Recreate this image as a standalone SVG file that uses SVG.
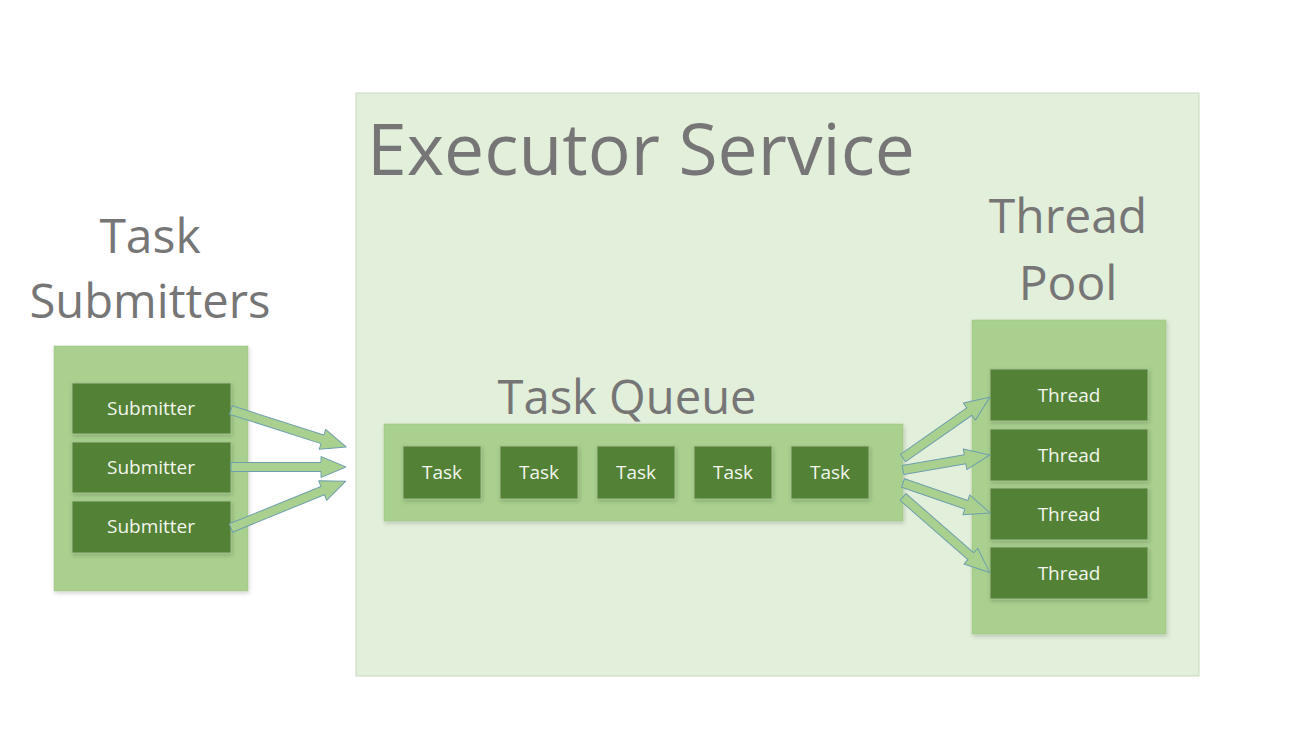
<svg xmlns="http://www.w3.org/2000/svg" width="1292" height="742" viewBox="0 0 1292 742">
<defs>
<style>
.exec{fill:#e2efda;stroke:#c9d9c0;stroke-width:1}
.outer{fill:#a9d08e;stroke:#9cc280;stroke-width:0.5}
.inner{fill:#538135;stroke:#a3bf8f;stroke-width:1}
.title{font-family:"Open Sans","Noto Sans",sans-serif;fill:#767676}
.lbl{font-family:"Open Sans","Noto Sans",sans-serif;fill:#f2f6ee;font-size:19px;text-anchor:middle}
.arrow{fill:#a9d08e;stroke:#6f9fae;stroke-width:1;stroke-linejoin:round}
</style>
<filter id="sh" x="-10%" y="-10%" width="130%" height="130%">
<feDropShadow dx="1" dy="2" stdDeviation="2" flood-color="#000" flood-opacity="0.18"/>
</filter>
</defs>
<rect width="1292" height="742" fill="#ffffff"/>

<g id="executor-service">
<rect class="exec" x="356" y="93" width="843" height="583"/>
<text class="title" x="367" y="175" font-size="72" textLength="548" lengthAdjust="spacingAndGlyphs">Executor Service</text>
</g>

<g id="task-submitters">
<text class="title" x="150" y="253" font-size="48" text-anchor="middle">Task</text>
<text class="title" x="150" y="318" font-size="48" text-anchor="middle" textLength="241" lengthAdjust="spacingAndGlyphs">Submitters</text>
<rect class="outer" x="54" y="346" width="194" height="245" filter="url(#sh)"/>
</g>
<g id="submitter-1"><rect class="inner" x="72" y="383" width="159" height="51" filter="url(#sh)"/><text class="lbl" x="151" y="415">Submitter</text></g>
<g id="submitter-2"><rect class="inner" x="72" y="442" width="159" height="51" filter="url(#sh)"/><text class="lbl" x="151" y="474">Submitter</text></g>
<g id="submitter-3"><rect class="inner" x="72" y="501" width="159" height="52" filter="url(#sh)"/><text class="lbl" x="151" y="533">Submitter</text></g>

<g id="task-queue">
<text class="title" x="627" y="414" font-size="48" text-anchor="middle" textLength="259" lengthAdjust="spacingAndGlyphs">Task Queue</text>
<rect class="outer" x="384" y="424" width="519" height="97" filter="url(#sh)"/>
</g>
<g id="task-1"><rect class="inner" x="403" y="446" width="78" height="53" filter="url(#sh)"/><text class="lbl" x="442" y="479">Task</text></g>
<g id="task-2"><rect class="inner" x="500" y="446" width="78" height="53" filter="url(#sh)"/><text class="lbl" x="539" y="479">Task</text></g>
<g id="task-3"><rect class="inner" x="597" y="446" width="78" height="53" filter="url(#sh)"/><text class="lbl" x="636" y="479">Task</text></g>
<g id="task-4"><rect class="inner" x="694" y="446" width="78" height="53" filter="url(#sh)"/><text class="lbl" x="733" y="479">Task</text></g>
<g id="task-5"><rect class="inner" x="791" y="446" width="78" height="53" filter="url(#sh)"/><text class="lbl" x="830" y="479">Task</text></g>

<g id="thread-pool">
<text class="title" x="1068" y="233" font-size="48" text-anchor="middle">Thread</text>
<text class="title" x="1068" y="300" font-size="48" text-anchor="middle">Pool</text>
<rect class="outer" x="972" y="320" width="194" height="314" filter="url(#sh)"/>
</g>
<g id="thread-1"><rect class="inner" x="990" y="369" width="158" height="52" filter="url(#sh)"/><text class="lbl" x="1069" y="402">Thread</text></g>
<g id="thread-2"><rect class="inner" x="990" y="429" width="158" height="52" filter="url(#sh)"/><text class="lbl" x="1069" y="462">Thread</text></g>
<g id="thread-3"><rect class="inner" x="990" y="488" width="158" height="52" filter="url(#sh)"/><text class="lbl" x="1069" y="521">Thread</text></g>
<g id="thread-4"><rect class="inner" x="990" y="547" width="158" height="52" filter="url(#sh)"/><text class="lbl" x="1069" y="580">Thread</text></g>

<g id="connectors">
<g transform="translate(231,410) rotate(17.8)"><path class="arrow" d="M0,-4.5 H96 V-10.5 L121,0 L96,10.5 V4.5 H0 Z"/></g>
<g transform="translate(231,467)"><path class="arrow" d="M0,-4.5 H90 V-10.5 L115,0 L90,10.5 V4.5 H0 Z"/></g>
<g transform="translate(231,528) rotate(-22.2)"><path class="arrow" d="M0,-4.5 H99 V-10.5 L124,0 L99,10.5 V4.5 H0 Z"/></g>
<g transform="translate(903,458) rotate(-35)"><path class="arrow" d="M0,-4.5 H81 V-10.5 L106,0 L81,10.5 V4.5 H0 Z"/></g>
<g transform="translate(903,470) rotate(-9.8)"><path class="arrow" d="M0,-4.5 H63 V-10.5 L88,0 L63,10.5 V4.5 H0 Z"/></g>
<g transform="translate(903,483) rotate(19)"><path class="arrow" d="M0,-4.5 H67 V-10.5 L92,0 L67,10.5 V4.5 H0 Z"/></g>
<g transform="translate(903,497) rotate(41.1)"><path class="arrow" d="M0,-4.5 H90 V-10.5 L115,0 L90,10.5 V4.5 H0 Z"/></g>
</g>
</svg>
